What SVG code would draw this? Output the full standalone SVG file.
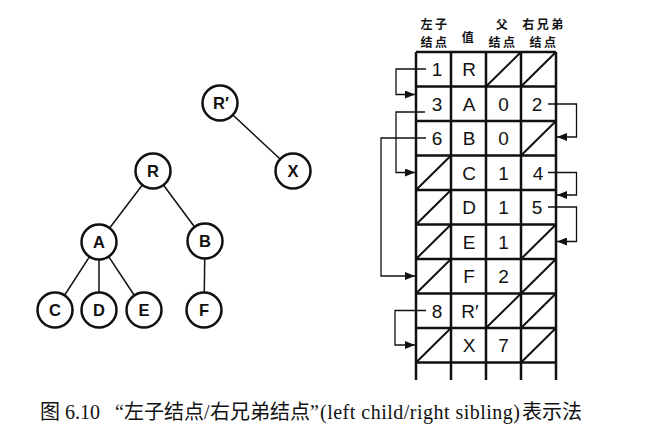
<svg xmlns="http://www.w3.org/2000/svg" width="645" height="439" viewBox="0 0 645 439">
<defs>
<style>
.bg{fill:#ffffff}
.edge{stroke:#111;stroke-width:1.5;fill:none}
.node circle{fill:#fff;stroke:#111;stroke-width:2.5}
.nl{font-family:"Liberation Sans","DejaVu Sans",sans-serif;font-size:16.5px;font-weight:bold;fill:#111;text-anchor:middle}
.grid{stroke:#111;stroke-width:2.5;fill:none}
.slash{stroke:#111;stroke-width:2;fill:none}
.cell{font-family:"Liberation Sans","DejaVu Sans",sans-serif;font-size:19px;fill:#111;text-anchor:middle}
.hd{font-family:"Noto Sans CJK SC",sans-serif;font-size:12px;font-weight:bold;fill:#111;text-anchor:middle;letter-spacing:2.5px}
.arr{stroke:#111;stroke-width:1.3;fill:none;marker-end:url(#ah)}
.cap{font-family:"Liberation Serif","Noto Sans CJK SC",serif;font-size:20px;fill:#111}
.capc{font-family:"Noto Sans CJK SC",sans-serif;font-size:20px;fill:#111}
</style>
<marker id="ah" viewBox="0 0 10 8" refX="10" refY="4" markerWidth="10" markerHeight="8" markerUnits="userSpaceOnUse" orient="auto">
<path d="M0,0 L10,4 L0,8 z" fill="#111"/>
</marker>
</defs>
<rect class="bg" x="0" y="0" width="645" height="439"/>

<g id="tree-edges">
<line class="edge" x1="220" y1="103" x2="293" y2="171"/>
<line class="edge" x1="153" y1="171" x2="99" y2="242"/>
<line class="edge" x1="153" y1="171" x2="205" y2="241"/>
<line class="edge" x1="99" y1="242" x2="55" y2="310"/>
<line class="edge" x1="99" y1="242" x2="99" y2="310"/>
<line class="edge" x1="99" y1="242" x2="144" y2="310"/>
<line class="edge" x1="205" y1="241" x2="204" y2="310"/>
</g>

<g id="node-Rp" class="node"><circle cx="220" cy="103" r="17.5"/><text class="nl" x="221" y="109">R′</text></g>
<g id="node-X" class="node"><circle cx="293" cy="171" r="17.5"/><text class="nl" x="293" y="177">X</text></g>
<g id="node-R" class="node"><circle cx="153" cy="171" r="17.5"/><text class="nl" x="153" y="177">R</text></g>
<g id="node-A" class="node"><circle cx="99" cy="242" r="17.5"/><text class="nl" x="99" y="248">A</text></g>
<g id="node-B" class="node"><circle cx="205" cy="241" r="17.5"/><text class="nl" x="205" y="247">B</text></g>
<g id="node-C" class="node"><circle cx="55" cy="310" r="17.5"/><text class="nl" x="55" y="316">C</text></g>
<g id="node-D" class="node"><circle cx="99" cy="310" r="17.5"/><text class="nl" x="99" y="316">D</text></g>
<g id="node-E" class="node"><circle cx="144" cy="310" r="17.5"/><text class="nl" x="144" y="316">E</text></g>
<g id="node-F" class="node"><circle cx="204" cy="310" r="17.5"/><text class="nl" x="204" y="316">F</text></g>

<g id="table-header">
<text class="hd"><tspan x="435" y="29">左子</tspan><tspan x="435" y="46.5">结点</tspan></text>
<text class="hd" x="469" y="42">值</text>
<text class="hd"><tspan x="503" y="29">父</tspan><tspan x="503" y="46.5">结点</tspan></text>
<text class="hd"><tspan x="544" y="29">右兄弟</tspan><tspan x="544" y="46.5">结点</tspan></text>
</g>

<g id="table-grid">
<path class="grid" d="M416,52 V380 M451,52 V380 M486,52 V380 M521,52 V380 M556,52 V380"/>
<path class="grid" d="M416,52 H556 M416,86.5 H556 M416,121 H556 M416,155.5 H556 M416,190 H556 M416,224.5 H556 M416,259 H556 M416,293.5 H556 M416,328 H556 M416,362.5 H556"/>
<path class="slash" d="M486,86.5 L521,52 M521,86.5 L556,52
M521,155.5 L556,121
M416,190 L451,155.5
M416,224.5 L451,190
M416,259 L451,224.5 M521,259 L556,224.5
M416,293.5 L451,259 M521,293.5 L556,259
M486,328 L521,293.5 M521,328 L556,293.5
M416,362.5 L451,328 M521,362.5 L556,328"/>
</g>

<g id="table-cells">
<text class="cell" x="437" y="76">1</text><text class="cell" x="469" y="76">R</text>
<text class="cell" x="437" y="110.5">3</text><text class="cell" x="469" y="110.5">A</text><text class="cell" x="503.5" y="110.5">0</text><text class="cell" x="537" y="110.5">2</text>
<text class="cell" x="437" y="145">6</text><text class="cell" x="469" y="145">B</text><text class="cell" x="503.5" y="145">0</text>
<text class="cell" x="469" y="179.5">C</text><text class="cell" x="503.5" y="179.5">1</text><text class="cell" x="538" y="179.5">4</text>
<text class="cell" x="469" y="214">D</text><text class="cell" x="503.5" y="214">1</text><text class="cell" x="537" y="214">5</text>
<text class="cell" x="469" y="248.5">E</text><text class="cell" x="503.5" y="248.5">1</text>
<text class="cell" x="469" y="283">F</text><text class="cell" x="503.5" y="283">2</text>
<text class="cell" x="437" y="317.5">8</text><text class="cell" x="470" y="317.5">R′</text>
<text class="cell" x="469" y="352">X</text><text class="cell" x="503.5" y="352">7</text>
</g>

<g id="connectors">
<path class="arr" d="M426,69 H396 V94.5 H415"/>
<path class="arr" d="M425,112 H396 V172.5 H415"/>
<path class="arr" d="M426,138 H381 V276 H415"/>
<path class="arr" d="M548,104 H576.5 V137 H557"/>
<path class="arr" d="M548,172.5 H576.5 V195 H557"/>
<path class="arr" d="M548,207 H576.5 V241.5 H557"/>
<path class="arr" d="M426,310.5 H395 V345 H415"/>
</g>

<g id="caption">
<text class="capc" x="40" y="419">图</text>
<text class="cap" x="65" y="419">6.10</text>
<text class="cap" x="115" y="419">“</text>
<text class="capc" x="124" y="419">左子结点</text>
<text class="cap" x="204" y="419">/</text>
<text class="capc" x="210" y="419">右兄弟结点</text>
<text class="cap" x="310" y="419">”</text>
<text class="cap" x="320" y="419" textLength="200" lengthAdjust="spacing">(left child/right sibling)</text>
<text class="capc" x="522" y="419">表示法</text>
</g>
</svg>
